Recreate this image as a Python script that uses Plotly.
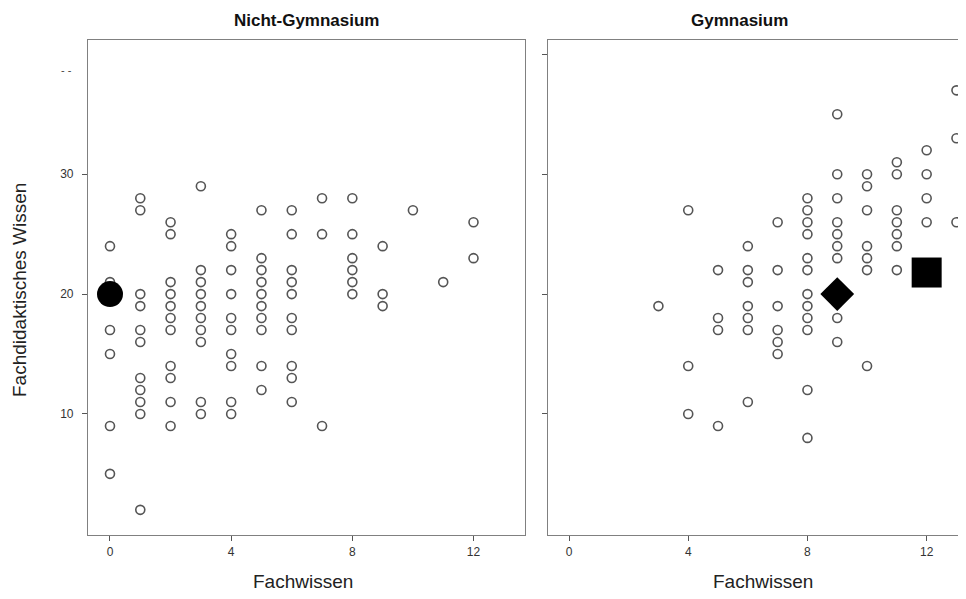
import plotly.graph_objects as go

# ---- data (Fachwissen score -> list of Fachdidaktisches Wissen scores) ----
nicht_x_levels = [0, 1, 2, 3, 4, 5, 6, 7, 8, 9, 10, 11, 12]
nicht_y_values = [
    [24, 21, 17, 15, 9, 5],
    [28, 27, 20, 19, 17, 16, 13, 12, 11, 10, 2],
    [26, 25, 21, 20, 19, 18, 17, 14, 13, 11, 9],
    [29, 22, 21, 20, 19, 18, 17, 16, 11, 10],
    [25, 24, 22, 20, 18, 17, 15, 14, 11, 10],
    [27, 23, 22, 21, 20, 19, 18, 17, 14, 12],
    [27, 25, 22, 21, 20, 18, 17, 14, 13, 11],
    [28, 25, 9],
    [28, 25, 23, 22, 21, 20],
    [24, 20, 19],
    [27],
    [21],
    [26, 23],
]
gym_x_levels = [3, 4, 5, 6, 7, 8, 9, 10, 11, 12, 13]
gym_y_values = [
    [19],
    [27, 14, 10],
    [22, 18, 17, 9],
    [24, 22, 21, 19, 18, 17, 11],
    [26, 22, 19, 17, 16, 15],
    [28, 27, 26, 25, 23, 22, 20, 19, 18, 17, 12, 8],
    [35, 30, 28, 26, 25, 24, 23, 18, 16],
    [30, 29, 27, 24, 23, 22, 14],
    [31, 30, 27, 26, 25, 24, 22],
    [32, 30, 28, 26],
    [37, 33, 26],
]
nicht_mean = (0, 20)
gym_mean_diamond = (9, 20)
gym_mean_square = (12, 21.8)

x_ticks = [0, 4, 8, 12]
y_ticks_left = [10, 20, 30]
y_ticks_right = [10, 20, 30, 40]


def flatten(levels, values):
    xs, ys = [], []
    for lv, vals in zip(levels, values):
        for v in vals:
            xs.append(lv)
            ys.append(v)
    return xs, ys


nx, ny = flatten(nicht_x_levels, nicht_y_values)
gx, gy = flatten(gym_x_levels, gym_y_values)

# page body has an 8px margin; figure sized so it fits the 966x599 view
OFF = 8
W, H = 966 - OFF, 599 - 2 * OFF


def px(x):
    return (x - OFF) / W


def py(y):
    return (H - (y - OFF)) / H


FONT = "Liberation Sans, Arial, sans-serif"
circ = dict(symbol="circle-open", size=9, color="#555555", line=dict(width=1.6, color="#555555"))

fig = go.Figure()
fig.add_trace(go.Scatter(x=nx, y=ny, mode="markers", marker=circ, xaxis="x", yaxis="y", showlegend=False))
fig.add_trace(go.Scatter(x=[nicht_mean[0]], y=[nicht_mean[1]], mode="markers",
                         marker=dict(symbol="circle", size=26, color="black"),
                         xaxis="x", yaxis="y", showlegend=False))
fig.add_trace(go.Scatter(x=gx, y=gy, mode="markers", marker=circ, xaxis="x2", yaxis="y2", showlegend=False))
fig.add_trace(go.Scatter(x=[gym_mean_diamond[0]], y=[gym_mean_diamond[1]], mode="markers",
                         marker=dict(symbol="diamond", size=26, color="black"),
                         xaxis="x2", yaxis="y2", showlegend=False))
fig.add_trace(go.Scatter(x=[gym_mean_square[0]], y=[gym_mean_square[1]], mode="markers",
                         marker=dict(symbol="square", size=30, color="black"),
                         xaxis="x2", yaxis="y2", showlegend=False))

ydom = [py(535), py(40)]
axcommon = dict(showgrid=False, zeroline=False, linecolor="#808080", linewidth=1.2,
                ticks="outside", ticklen=5, tickcolor="#555555", tickwidth=1,
                tickfont=dict(family=FONT, size=12, color="#333333"))

fig.update_layout(
    width=W, height=H,
    margin=dict(l=0, r=0, t=0, b=0),
    paper_bgcolor="white", plot_bgcolor="white",
    font=dict(family=FONT),
    xaxis=dict(domain=[px(88), px(525)], range=[-0.726, 13.70], tickvals=x_ticks,
               anchor="y", mirror=True, showline=True, **axcommon),
    yaxis=dict(domain=ydom, range=[-0.1, 41.2], tickvals=y_ticks_left, anchor="x",
               mirror=True, showline=True, ticklabelstandoff=6, **axcommon),
    xaxis2=dict(domain=[px(548), 1.0], range=[-0.705, 13.32], tickvals=x_ticks,
                anchor="y2", mirror=True, showline=True, **axcommon),
    yaxis2=dict(domain=ydom, range=[-0.1, 41.2], tickvals=y_ticks_right, anchor="x2",
                showticklabels=False, mirror=False, showline=True, **axcommon),
)


def ann(text, x, y, size, bold=False, angle=0, color="#111111"):
    fig.add_annotation(text=f"<b>{text}</b>" if bold else text,
                       x=px(x), y=py(y), xref="paper", yref="paper",
                       showarrow=False, textangle=angle, xanchor="center", yanchor="middle",
                       font=dict(family=FONT, size=size, color=color))


ann("Nicht-Gymnasium", 306, 20, 17, bold=True)
ann("Gymnasium", 739, 20, 17, bold=True)
ann("Fachwissen", 303, 581, 19, color="#222222")
ann("Fachwissen", 763, 581, 19, color="#222222")
ann("Fachdidaktisches Wissen", 19, 290, 19, angle=-90, color="#222222")
ann("- -", 66, 70, 11, color="#444444")

fig.write_html("out.html")
